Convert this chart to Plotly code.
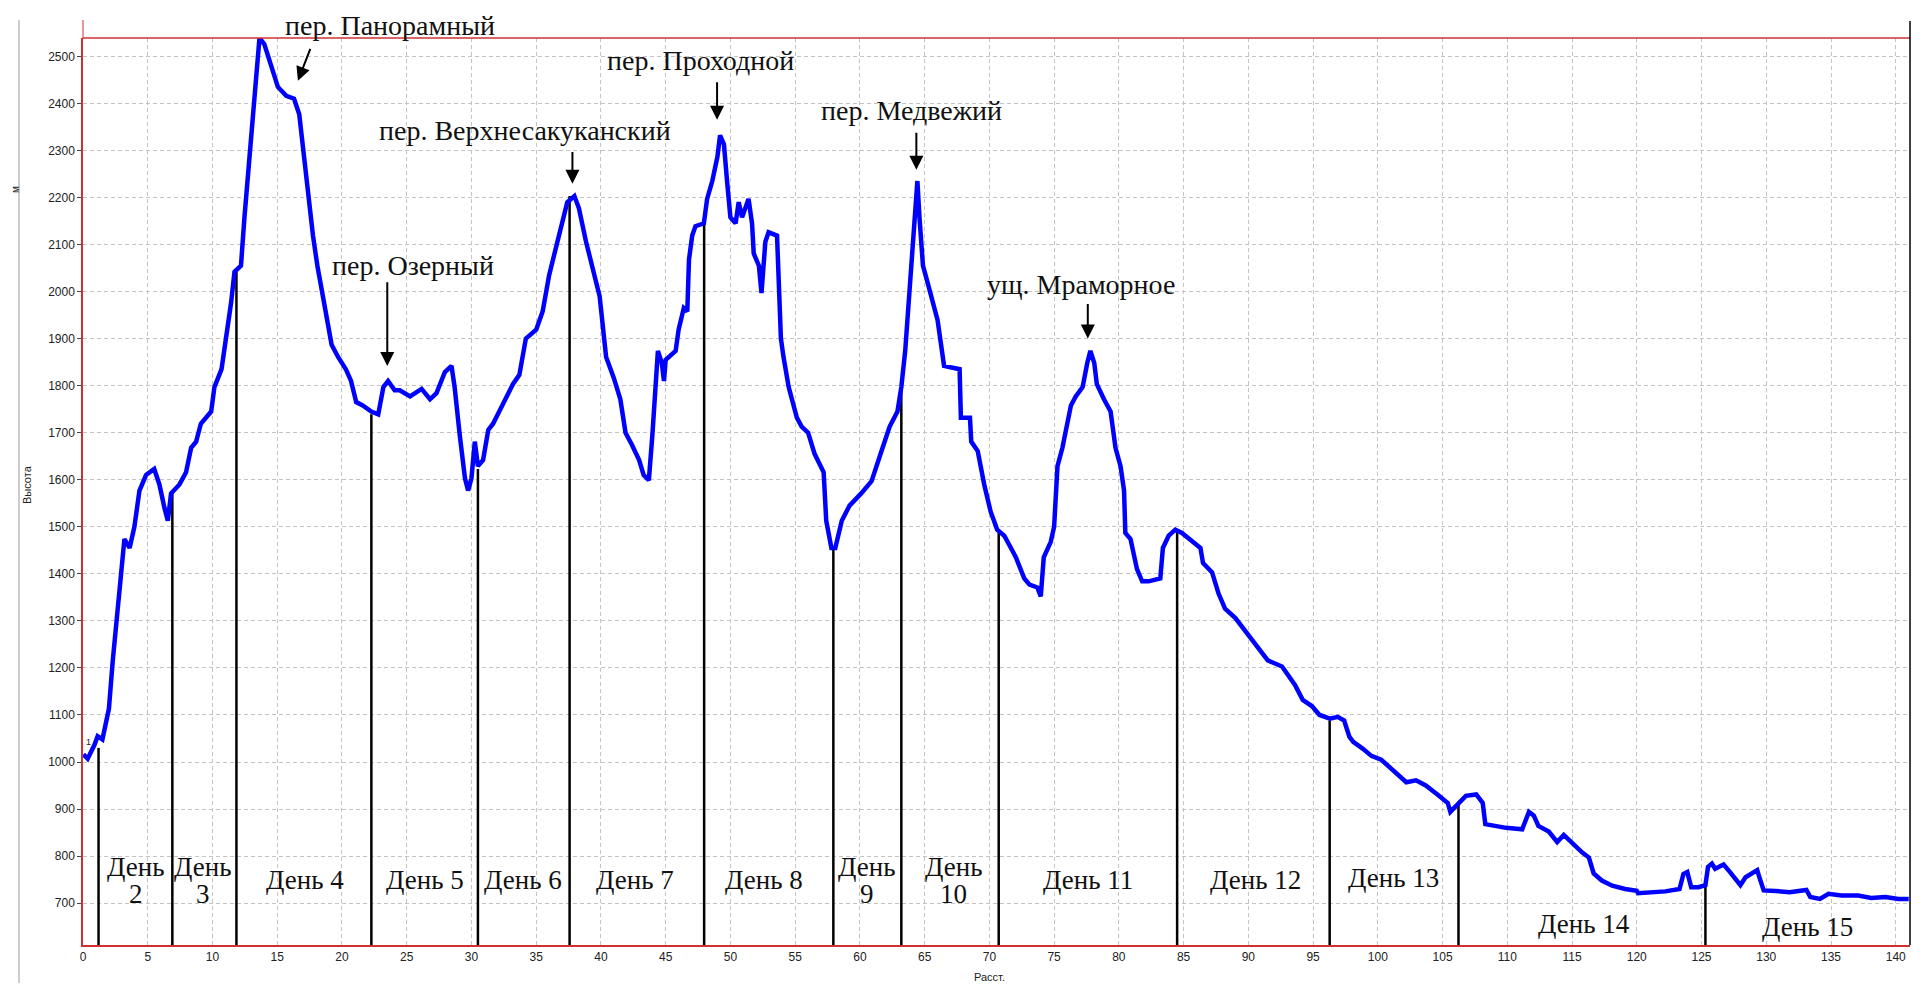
import plotly.graph_objects as go

# ---------------- data ----------------
dist = [0.03, 0.36, 0.88, 1.13, 1.5, 2.0, 2.3, 2.7, 3.2, 3.6, 3.97, 4.36, 4.87, 5.5, 5.9, 6.3, 6.55, 6.8,
        7.45, 7.96, 8.35, 8.74, 9.1, 9.9, 10.15, 10.7, 11.06, 11.44, 11.7, 12.2, 12.47, 12.86, 13.25, 13.63,
        14.0, 14.5, 15.05, 15.7, 16.3, 16.7, 17.0, 17.37, 17.76, 18.1, 18.66, 19.2, 19.7, 20.3, 20.7, 21.1,
        21.6, 22.27, 22.8, 23.2, 23.56, 24.07, 24.46,
        25.26, 26.15, 26.8, 27.3, 27.95, 28.46, 28.7, 29.1, 29.5, 29.74, 30.0, 30.26, 30.5, 30.9, 31.3, 31.67,
        32.4, 33.2, 33.7, 34.2, 35.0, 35.5, 36.0, 36.8, 37.4, 37.95, 38.3, 38.85, 39.36, 39.9, 40.4, 41.0,
        41.5, 41.9, 42.4, 42.95, 43.3, 43.7, 43.97, 44.2, 44.4, 44.7, 44.87, 45.0, 45.77, 46.0, 46.4, 46.67,
        46.8, 47.05, 47.3, 47.95,
        48.2, 48.6, 49.0, 49.2, 49.5, 49.74, 50.0, 50.4, 50.64, 50.9, 51.4, 51.67, 51.8, 52.2, 52.4, 52.7,
        52.95, 53.6, 53.7, 53.9, 54.1, 54.5, 55.13, 55.5, 56.0, 56.5, 57.2, 57.4, 57.8, 58.1, 58.6, 59.2,
        60.1, 60.9, 61.67, 62.3, 62.9, 63.2, 63.5, 63.7, 64.0, 64.23, 64.44, 64.6, 64.87, 65.26, 65.64, 66.0,
        66.5, 67.7, 67.8, 68.5, 68.6, 69.1, 69.6, 70.1, 70.6, 71.15, 71.8,
        72.05, 72.7, 73.1, 73.7, 73.97, 74.2, 74.74, 75.0, 75.26, 75.64, 76.0, 76.3, 76.67, 77.2, 77.56, 77.8,
        78.1, 78.3, 78.85, 79.36, 79.74, 80.13, 80.4, 80.5, 80.9, 81.4, 81.8, 82.3, 83.2, 83.4, 83.85, 84.36,
        84.87, 85.4, 86.3, 86.5, 87.2, 87.7, 88.2, 89.0, 89.9, 90.8, 91.5, 92.6, 93.6, 94.2, 94.9, 95.5,
        96.3, 96.9, 97.4, 97.8, 98.1, 98.85, 99.5, 100.26, 101.0, 101.67, 102.2, 102.95, 103.7, 104.6, 105.4,
        105.6, 106.3, 106.8, 107.6, 108.1, 108.3, 109.1, 109.9, 111.15, 111.67, 112.05, 112.4, 113.2, 113.85,
        114.36, 115.0, 115.77, 116.3, 116.67, 117.3, 118.1, 119.1, 120.0,
        120.1, 121.2, 122.2, 123.3, 123.6, 123.9, 124.2, 124.76, 125.3, 125.5, 125.8, 126.05, 126.7, 127.2,
        127.6, 128.0, 128.4, 128.9, 129.3, 129.5, 129.8, 130.7, 131.8, 133.1, 133.4, 134.15, 134.8, 135.8,
        137.1, 138.1, 139.2, 140.2, 141.0]

elev = [1016, 1007, 1036, 1055, 1048, 1113, 1216, 1332, 1474, 1455, 1500, 1577, 1610, 1623, 1590, 1539, 1513, 1571,
        1590, 1616, 1668, 1681, 1719, 1745, 1797, 1835, 1900, 1977, 2042, 2055, 2158, 2287, 2429, 2539,
        2526, 2481, 2435, 2416, 2410, 2377, 2300, 2197, 2119, 2055, 1965, 1887, 1861, 1835, 1810, 1765,
        1758, 1745, 1739, 1797, 1810, 1790, 1790,
        1777, 1793, 1771, 1784, 1829, 1842, 1797, 1694, 1603, 1577, 1603, 1681, 1629, 1642, 1706, 1719,
        1758, 1803, 1823, 1900, 1919, 1958, 2035, 2119, 2190, 2203, 2177, 2106, 2048, 1990, 1861, 1816,
        1771, 1700, 1674, 1642, 1610, 1599, 1694, 1797, 1874, 1848, 1810, 1855, 1874, 1919, 1965, 1958,
        2068, 2119, 2139, 2145,
        2197, 2235, 2287, 2332, 2313, 2235, 2158, 2145, 2190, 2158, 2197, 2145, 2081, 2055, 1997, 2106,
        2126, 2119, 2029, 1900, 1861, 1797, 1732, 1713, 1700, 1655, 1616, 1513, 1455, 1455, 1513, 1545,
        1571, 1597, 1661, 1713, 1745, 1797, 1874, 1952, 2081, 2184, 2235, 2158, 2055, 2016, 1977, 1939,
        1842, 1835, 1732, 1732, 1681, 1661, 1590, 1532, 1494, 1481, 1448,
        1435, 1390, 1377, 1371, 1352, 1435, 1468, 1500, 1629, 1668, 1719, 1758, 1777, 1797, 1848, 1874,
        1848, 1803, 1771, 1745, 1668, 1629, 1577, 1487, 1474, 1410, 1384, 1384, 1390, 1455, 1481, 1494,
        1487, 1474, 1455, 1423, 1403, 1358, 1326, 1306, 1274, 1242, 1216, 1203, 1164, 1132, 1119, 1100,
        1092, 1096, 1088, 1054, 1043, 1028, 1013, 1005, 987, 972, 957, 961, 950, 931, 913,
        894, 913, 928, 931, 913, 868, 864, 860, 857, 894, 886, 864, 852, 830,
        845, 827, 808, 797, 763, 748, 737, 730, 726,
        721, 723, 725, 730, 762, 766, 734, 734, 738, 777, 784, 773, 782, 766,
        752, 738, 755, 762, 770, 752, 727, 726, 723, 728, 713, 709, 720, 716,
        716, 711, 713, 709, 709]

# day boundaries (distance, elevation at the top of the marker line)
day_x = [1.2, 6.9, 11.85, 22.27, 30.5, 37.58, 47.97, 57.95, 63.2, 70.72, 84.5, 96.28, 106.23, 125.3]
day_top = [1030, 1571, 2042, 1739, 1623, 2203, 2145, 1455, 1797, 1487, 1494, 1088, 913, 738]

# day labels: (text lines, x, y of each line)
day_labels = [
    (["День", "2"], 4.06, [777, 720]),
    (["День", "3"], 9.3, [777, 720]),
    (["День 4"], 17.16, [749]),
    (["День 5"], 26.4, [749]),
    (["День 6"], 33.98, [749]),
    (["День 7"], 42.66, [749]),
    (["День 8"], 52.6, [749]),
    (["День", "9"], 60.55, [777, 720]),
    (["День", "10"], 67.24, [777, 720]),
    (["День 11"], 77.6, [749]),
    (["День 12"], 90.56, [749]),
    (["День 13"], 101.2, [754]),
    (["День 14"], 115.9, [656]),
    (["День 15"], 133.2, [650]),
]

# passes: label, label x, label y, arrow tail (x, y), arrow tip (x, y)
pass_names = ["пер. Панорамный", "пер. Озерный", "пер. Верхнесакуканский",
              "пер. Проходной", "пер. Медвежий", "ущ. Мраморное"]
pass_label_x = [23.7, 25.45, 34.1, 47.7, 64.0, 77.1]
pass_label_y = [2576, 2056, 2343, 2491, 2385, 2016]
arrow_tail_x = [17.6, 23.5, 37.8, 48.97, 64.36, 77.6]
arrow_tail_y = [2519, 2023, 2300, 2448, 2341, 1977]
arrow_tip_x = [16.6, 23.5, 37.8, 48.97, 64.36, 77.6]
arrow_tip_y = [2448, 1842, 2229, 2365, 2259, 1900]

X_RANGE = [0, 141.1]
Y_RANGE = [611, 2539]

# ---------------- figure ----------------
# page body has an 8px margin; figure sized so it fits in the window
W, H = 1917, 976
ML, MR, MT, MB = 75, 15, 30, 39
PW, PH = W - ML - MR, H - MT - MB
OFF = 8  # body margin offset


def px_to_paper_x(sx):
    return (sx - OFF - ML) / PW


def px_to_paper_y(sy):
    return (H - MB - (sy - OFF)) / PH


def val_to_paper_y(v):
    return (v - Y_RANGE[0]) / (Y_RANGE[1] - Y_RANGE[0])


fig = go.Figure()

# day boundary lines
lx, ly = [], []
for x, top in zip(day_x, day_top):
    lx += [x, x, None]
    ly += [Y_RANGE[0], top, None]
fig.add_trace(go.Scatter(x=lx, y=ly, mode="lines", line=dict(color="black", width=2.5),
                         hoverinfo="skip", showlegend=False))

# elevation profile
fig.add_trace(go.Scatter(x=dist, y=elev, mode="lines", line=dict(color="#0000ff", width=4.5),
                         showlegend=False))

serif = "Liberation Serif, Times New Roman, serif"
sans = "Liberation Sans, Arial, sans-serif"
ann = []
for lines, x, ys in day_labels:
    for t, y in zip(lines, ys):
        ann.append(dict(x=x, y=y, xref="x", yref="y", text=t, showarrow=False,
                        font=dict(family=serif, size=27, color="#111"),
                        xanchor="center", yanchor="middle"))

top_limit = px_to_paper_y(OFF)  # very top of the figure
for name, lxp, lyp in zip(pass_names, pass_label_x, pass_label_y):
    py = val_to_paper_y(lyp)
    ya = "middle"
    if py + 18 / PH > top_limit:  # keep the label inside the figure
        py, ya = top_limit, "top"
    ann.append(dict(x=lxp, y=py, xref="x", yref="paper", text=name, showarrow=False,
                    font=dict(family=serif, size=28, color="#111"),
                    xanchor="center", yanchor=ya))

for tx, ty, hx, hy in zip(arrow_tail_x, arrow_tail_y, arrow_tip_x, arrow_tip_y):
    ann.append(dict(x=hx, y=hy, ax=tx, ay=ty, xref="x", yref="y", axref="x", ayref="y",
                    text="", showarrow=True, arrowhead=2, arrowsize=1.4, arrowwidth=2,
                    arrowcolor="black"))

ann.append(dict(x=0.1, y=1042, xref="x", yref="y", text="1", showarrow=False,
                font=dict(family=sans, size=9, color="#222"),
                xanchor="left", yanchor="middle"))

ann.append(dict(x=px_to_paper_x(27), y=px_to_paper_y(485), xref="paper", yref="paper", text="Высота",
                textangle=-90, showarrow=False, xanchor="center", yanchor="middle",
                font=dict(family=sans, size=11, color="#222")))
ann.append(dict(x=px_to_paper_x(15), y=px_to_paper_y(190), xref="paper", yref="paper", text="м",
                textangle=-90, showarrow=False, xanchor="center", yanchor="middle",
                font=dict(family=sans, size=10, color="#222")))
ann.append(dict(x=70, y=px_to_paper_y(977), xref="x", yref="paper", text="Расст.",
                showarrow=False, xanchor="center", yanchor="middle",
                font=dict(family=sans, size=11, color="#222")))

shapes = [
    dict(type="line", xref="paper", yref="paper", x0=0, x1=1, y0=1, y1=1, line=dict(color="#d03030", width=1.5)),
    dict(type="line", xref="paper", yref="paper", x0=0, x1=0, y0=1, y1=px_to_paper_y(20),
         line=dict(color="#d03030", width=1)),
    dict(type="line", xref="paper", yref="paper", x0=1, x1=1, y0=0, y1=px_to_paper_y(21),
         line=dict(color="black", width=1.5)),
    dict(type="line", xref="paper", yref="paper", x0=px_to_paper_x(19), x1=px_to_paper_x(19),
         y0=px_to_paper_y(983), y1=px_to_paper_y(20), line=dict(color="#999", width=1)),
]

fig.update_layout(
    template="none",
    width=W, height=H,
    margin=dict(l=ML, r=MR, t=MT, b=MB, autoexpand=False),
    paper_bgcolor="white", plot_bgcolor="white",
    showlegend=False,
    annotations=ann, shapes=shapes,
    xaxis=dict(range=X_RANGE, tick0=0, dtick=5, showgrid=True, gridcolor="#c4c4c4", gridwidth=1,
               griddash="4px,3px", showline=True, linecolor="#d03030", linewidth=1.5, zeroline=False,
               ticks="", automargin=False,
               tickfont=dict(family=sans, size=12, color="#222")),
    yaxis=dict(range=Y_RANGE, tick0=0, dtick=100, showgrid=True, gridcolor="#c4c4c4", gridwidth=1,
               griddash="4px,3px", showline=True, linecolor="#d03030", linewidth=1.5, zeroline=False,
               ticks="outside", ticklen=4, tickcolor="#444", automargin=False,
               tickfont=dict(family=sans, size=12, color="#222")),
)

fig.write_html("out.html")
